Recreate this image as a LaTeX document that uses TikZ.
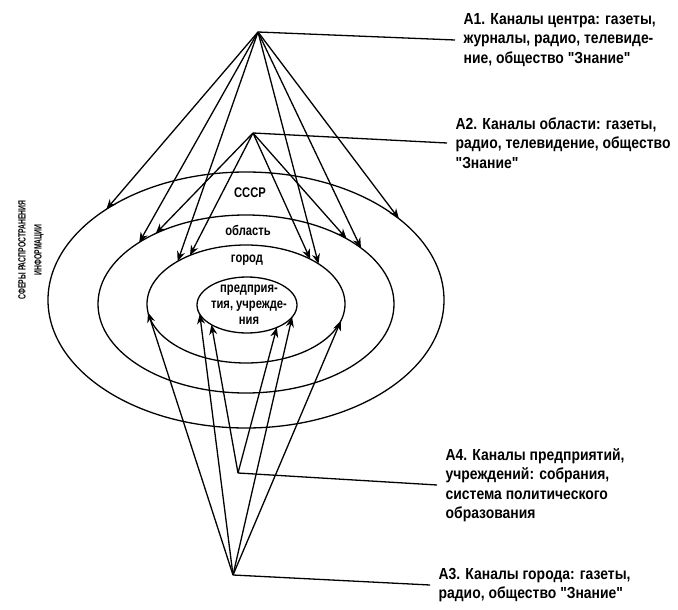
\documentclass[tikz,border=0pt]{standalone}
\usepackage{fontspec}
\newfontfamily\chanfont{Liberation Sans Bold}[FakeStretch=0.87]
\newfontfamily\narrowfont{Liberation Sans Bold}[FakeStretch=0.8]
\newfontfamily\capfont{Liberation Sans Bold}[FakeStretch=0.65]
\usepackage{tikz}
\usetikzlibrary{shapes, arrows.meta}

\tikzset{
  sphere/.style={ellipse, draw, inner sep=0pt, outer sep=0pt},
  sphname/.style={align=center, inner sep=1pt, font=\narrowfont\fontsize{14}{16}\selectfont},
  chantext/.style={anchor=west, align=left, inner xsep=8pt, font=\chanfont\fontsize{16}{19.5}\selectfont},
  channel/.style={-{Stealth[length=10pt, width=8pt]}}
}

\begin{document}
\begin{tikzpicture}[x=1pt, y=-1pt, line width=1.3pt]
\useasboundingbox (0,0) rectangle (678,610);

% spheres of distribution
\node (sssr) [sphere, minimum width=396pt, minimum height=256pt] at (246,300) {};
\node (obl)  [sphere, minimum width=296pt, minimum height=178pt] at (246,304) {};
\node (gor)  [sphere, minimum width=198pt, minimum height=118pt] at (246,304) {};
\node (pred) [sphere, minimum width=100pt, minimum height=56pt]  at (247,305) {};

% sphere names
\node (sssrname) [sphname] at (250,193) {СССР};
\node (oblname)  [sphname] at (248,230) {область};
\node (gorname)  [sphname] at (247,260) {город};
\node (predname) [sphname] at (249,305) {предприя-\\тия, учрежде-\\ния};

% side caption
\node (caption) [rotate=90, align=center, font=\capfont\fontsize{10.5}{16}\selectfont] at (31,250) {СФЕРЫ РАСПРОСТРАНЕНИЯ\\ИНФОРМАЦИИ};

% channel sources
\coordinate (a1) at (258,32);
\coordinate (a2) at (253,133);
\coordinate (a4) at (238,473);
\coordinate (a3) at (233,575);

% channel texts
\node (a1txt) [chantext] at (455,40) {А1. Каналы центра: газеты,\\журналы, радио, телевиде-\\ние, общество "Знание"};
\node (a2txt) [chantext] at (447,143) {А2. Каналы области: газеты,\\радио, телевидение, общество\\"Знание"};
\node (a4txt) [chantext] at (437,485) {А4. Каналы предприятий,\\учреждений: собрания,\\система политического\\образования};
\node (a3txt) [chantext] at (430,585) {А3. Каналы города: газеты,\\радио, общество "Знание"};

% leaders to texts
\draw (a1) -- (a1txt.west);
\draw (a2) -- (a2txt.west);
\draw (a4) -- (a4txt.west);
\draw (a3) -- (a3txt.west);

% channels of the centre
\foreach \t in {sssr.147, obl.150, gor.148, gor.29, obl.26, sssr.28}
  \draw[channel] (a1) -- (\t);

% channels of the region
\foreach \t in {obl.142, gor.139, gor.35, obl.33}
  \draw[channel] (a2) -- (\t);

% channels of the town
\foreach \t in {gor.185, pred.191, pred.345, gor.350}
  \draw[channel] (a3) -- (\t);

% channels of enterprises
\foreach \t in {pred.209, pred.323}
  \draw[channel] (a4) -- (\t);

\end{tikzpicture}
\end{document}
